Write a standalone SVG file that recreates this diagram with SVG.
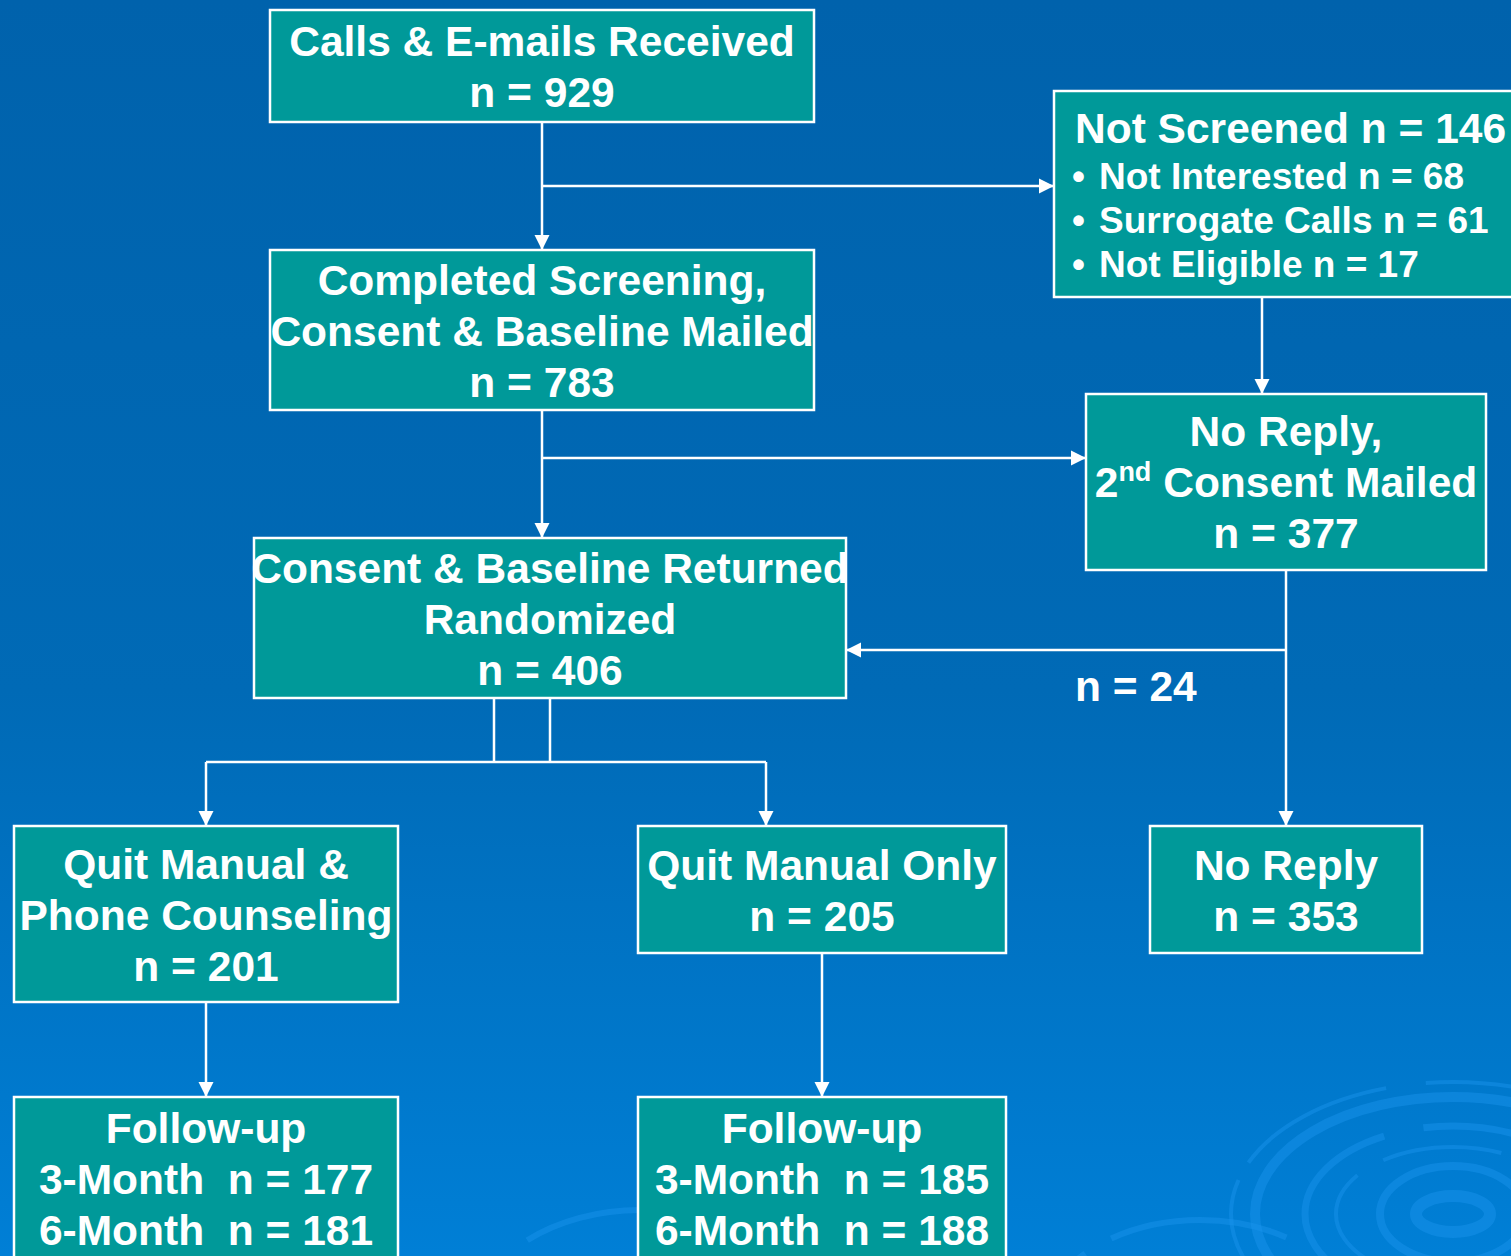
<svg xmlns="http://www.w3.org/2000/svg" width="1511" height="1256" viewBox="0 0 1511 1256">
<style>
.box{fill:#009999;stroke:#ffffff;stroke-width:2.5}
.t{font-family:"Liberation Sans",Arial,sans-serif;font-weight:bold;font-size:42.5px;fill:#ffffff;text-anchor:middle}
.ts{font-family:"Liberation Sans",Arial,sans-serif;font-weight:bold;font-size:37px;fill:#ffffff}
.tl{font-family:"Liberation Sans",Arial,sans-serif;font-weight:bold;font-size:42.5px;fill:#ffffff}
.c{fill:none;stroke:#ffffff;stroke-width:2.5}
.sw{fill:none;stroke:#1a94ee;opacity:0.45}
</style>
<defs>
<linearGradient id="bg" x1="0" y1="0" x2="0" y2="1">
<stop offset="0" stop-color="#0062ac"/>
<stop offset="0.55" stop-color="#006ab6"/>
<stop offset="1" stop-color="#007fd6"/>
</linearGradient>
<marker id="ah" markerUnits="userSpaceOnUse" markerWidth="16" markerHeight="16" refX="15" refY="8" orient="auto">
<path d="M0,0.5 L15,8 L0,15.5 z" fill="#ffffff"/>
</marker>
</defs>
<rect x="0" y="0" width="1511" height="1256" fill="url(#bg)"/>
<g id="swirls">
<ellipse class="sw" cx="1453" cy="1214" rx="37" ry="18" stroke-width="12"/>
<ellipse class="sw" cx="1453" cy="1214" rx="73" ry="48" stroke-width="8"/>
<ellipse class="sw" cx="1453" cy="1214" rx="117" ry="67" stroke-width="4" stroke-dasharray="120 20 200 30"/>
<ellipse class="sw" cx="1453" cy="1214" rx="148" ry="88" stroke-width="7" stroke-dasharray="90 25 60 20 300 40"/>
<ellipse class="sw" cx="1453" cy="1214" rx="198" ry="117" stroke-width="10"/>
<ellipse class="sw" cx="1453" cy="1214" rx="222" ry="132" stroke-width="4" stroke-dasharray="160 40 400 20"/>
<ellipse class="sw" cx="640" cy="1330" rx="170" ry="120" stroke-width="6" opacity="0.3" stroke-dasharray="200 40 300 30"/>
<ellipse class="sw" cx="1200" cy="1330" rx="160" ry="110" stroke-width="6" opacity="0.3" stroke-dasharray="180 40 300 30"/>
</g>
<g id="connectors">
<path class="c" d="M542,122 V250" marker-end="url(#ah)"/>
<path class="c" d="M542,186 H1054" marker-end="url(#ah)"/>
<path class="c" d="M1262,297 V394" marker-end="url(#ah)"/>
<path class="c" d="M542,410 V538" marker-end="url(#ah)"/>
<path class="c" d="M542,458 H1086" marker-end="url(#ah)"/>
<path class="c" d="M1286,570 V826" marker-end="url(#ah)"/>
<path class="c" d="M1286,650 H846" marker-end="url(#ah)"/>
<path class="c" d="M494,698 V762 M550,698 V762 M206,762 H766"/>
<path class="c" d="M206,762 V826" marker-end="url(#ah)"/>
<path class="c" d="M766,762 V826" marker-end="url(#ah)"/>
<path class="c" d="M206,1002 V1097" marker-end="url(#ah)"/>
<path class="c" d="M822,953 V1097" marker-end="url(#ah)"/>
<text class="tl" x="1075" y="701">n = 24</text>
</g>
<g id="calls">
<rect class="box" x="270" y="10" width="544" height="112"/>
<text class="t" x="542" y="56">Calls &amp; E-mails Received</text>
<text class="t" x="542" y="107">n = 929</text>
</g>
<g id="not-screened">
<rect class="box" x="1054" y="91" width="462" height="206"/>
<text class="tl" x="1075" y="143">Not Screened n = 146</text>
<text class="ts" x="1072" y="189">•</text>
<text class="ts" x="1099" y="189">Not Interested n = 68</text>
<text class="ts" x="1072" y="233">•</text>
<text class="ts" x="1099" y="233">Surrogate Calls n = 61</text>
<text class="ts" x="1072" y="277">•</text>
<text class="ts" x="1099" y="277">Not Eligible n = 17</text>
</g>
<g id="completed">
<rect class="box" x="270" y="250" width="544" height="160"/>
<text class="t" x="542" y="295">Completed Screening,</text>
<text class="t" x="542" y="346">Consent &amp; Baseline Mailed</text>
<text class="t" x="542" y="397">n = 783</text>
</g>
<g id="no-reply-2nd">
<rect class="box" x="1086" y="394" width="400" height="176"/>
<text class="t" x="1286" y="446">No Reply,</text>
<text class="t" x="1286" y="497">2<tspan style="font-size:27px" dy="-16">nd</tspan><tspan dy="16"> Consent Mailed</tspan></text>
<text class="t" x="1286" y="548">n = 377</text>
</g>
<g id="randomized">
<rect class="box" x="254" y="538" width="592" height="160"/>
<text class="t" x="550" y="583">Consent &amp; Baseline Returned</text>
<text class="t" x="550" y="634">Randomized</text>
<text class="t" x="550" y="685">n = 406</text>
</g>
<g id="quit-phone">
<rect class="box" x="14" y="826" width="384" height="176"/>
<text class="t" x="206" y="879">Quit Manual &amp;</text>
<text class="t" x="206" y="930">Phone Counseling</text>
<text class="t" x="206" y="981">n = 201</text>
</g>
<g id="quit-only">
<rect class="box" x="638" y="826" width="368" height="127"/>
<text class="t" x="822" y="880">Quit Manual Only</text>
<text class="t" x="822" y="931">n = 205</text>
</g>
<g id="no-reply">
<rect class="box" x="1150" y="826" width="272" height="127"/>
<text class="t" x="1286" y="880">No Reply</text>
<text class="t" x="1286" y="931">n = 353</text>
</g>
<g id="followup-phone">
<rect class="box" x="14" y="1097" width="384" height="170"/>
<text class="t" x="206" y="1143">Follow-up</text>
<text class="t" x="206" y="1194" xml:space="preserve">3-Month  n = 177</text>
<text class="t" x="206" y="1245" xml:space="preserve">6-Month  n = 181</text>
</g>
<g id="followup-only">
<rect class="box" x="638" y="1097" width="368" height="170"/>
<text class="t" x="822" y="1143">Follow-up</text>
<text class="t" x="822" y="1194" xml:space="preserve">3-Month  n = 185</text>
<text class="t" x="822" y="1245" xml:space="preserve">6-Month  n = 188</text>
</g>
</svg>
